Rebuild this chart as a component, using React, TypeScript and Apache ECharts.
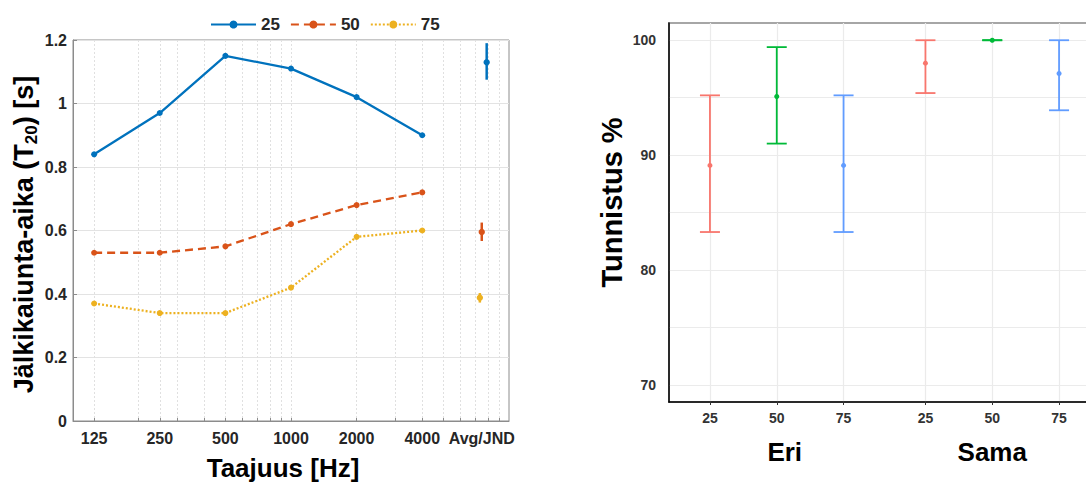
import React, { useEffect, useRef } from 'react';
import * as echarts from 'echarts';

// ---------- Left chart data ----------
const freqs = [125, 250, 500, 1000, 2000, 4000];
const seriesNames = ['25', '50', '75'];
const t20_25 = [0.84, 0.97, 1.15, 1.11, 1.02, 0.9];
const t20_50 = [0.53, 0.53, 0.55, 0.62, 0.68, 0.72];
const t20_75 = [0.37, 0.34, 0.34, 0.42, 0.58, 0.6];
const avgLabel = 'Avg/JND';
const avgLabelFreq = 7500;
const avgFreqs = [7900, 7500, 7350];
const avgMeans = [1.13, 0.595, 0.388];
const avgLow = [1.075, 0.567, 0.373];
const avgHigh = [1.19, 0.625, 0.403];
const xTickFreqs = [125, 250, 500, 1000, 2000, 4000, 7500];
const gridFreqs = [125, 200, 250, 300, 400, 500, 600, 700, 800, 900, 1000, 2000, 3000, 4000, 5000, 6000, 7000, 8000, 9000];

// ---------- Right chart data ----------
const groups = ['Eri', 'Sama'];
const levels = ['25', '50', '75'];
const accMean = [[89.1, 95.1, 89.1], [98.0, 100, 97.1]];
const accLow = [[83.3, 91.0, 83.3], [95.4, 100, 93.9]];
const accHigh = [[95.2, 99.4, 95.2], [100, 100, 100]];
const accLabelTicks = [70, 80, 90, 100];
const accGridTicks = [70, 75, 80, 85, 90, 95, 100];

const leftColors = ['#0072BD', '#D95319', '#EDB120'];
const rightColors = ['#F8766D', '#00BA38', '#619CFF'];
const FONT = '"Liberation Sans", Arial, Helvetica, sans-serif';

export default function App() {
  const ref = useRef<HTMLDivElement>(null);
  useEffect(() => {
    if (!ref.current) return;
    const chart = echarts.init(ref.current, undefined, { renderer: 'svg' });

    const lineVals = [t20_25, t20_50, t20_75];
    const lineTypes: any[] = ['solid', [8, 5], [2, 2]];
    const lineSeries = seriesNames.map((name, k) => ({
      name,
      type: 'line',
      xAxisIndex: 0,
      yAxisIndex: 0,
      data: freqs.map((f, i) => [f, lineVals[k][i]]),
      symbol: 'circle',
      symbolSize: 6,
      itemStyle: { color: leftColors[k] },
      lineStyle: { color: leftColors[k], width: 2.3, type: lineTypes[k] },
      z: 5,
    }));

    const avgData = seriesNames.map((_, k) => [avgFreqs[k], avgMeans[k], avgLow[k], avgHigh[k], k]);

    const dodge = [-0.31, 0, 0.31];
    const accPos: number[] = [];
    const accData: number[][] = [];
    groups.forEach((_, gi) => {
      levels.forEach((_, k) => {
        accPos.push(gi + dodge[k]);
        accData.push([gi + dodge[k], accMean[gi][k], accLow[gi][k], accHigh[gi][k], k]);
      });
    });

    const nearestFreqLabel = (v: number) => {
      let best = 0;
      xTickFreqs.forEach((f, i) => {
        if (Math.abs(Math.log(f) - Math.log(v)) < Math.abs(Math.log(xTickFreqs[best]) - Math.log(v))) best = i;
      });
      const f = xTickFreqs[best];
      return f === avgLabelFreq ? avgLabel : String(f);
    };
    const nearestLevel = (v: number) => {
      let best = 0;
      accPos.forEach((p, i) => {
        if (Math.abs(p - v) < Math.abs(accPos[best] - v)) best = i;
      });
      return levels[best % levels.length];
    };

    const option: any = {
      animation: false,
      textStyle: { fontFamily: FONT },
      legend: {
        data: seriesNames,
        left: 205,
        top: 11,
        itemWidth: 45,
        itemHeight: 10,
        itemGap: 10,
        textStyle: { fontSize: 17, fontWeight: 'bold', color: '#262626', fontFamily: FONT },
      },
      grid: [
        { left: 73, top: 40, width: 436, height: 381, show: true, borderColor: '#8c8c8c', borderWidth: 1, backgroundColor: 'transparent' },
        { left: 669, top: 23, width: 431, height: 379, show: true, borderColor: '#a6a6a6', borderWidth: 2, backgroundColor: 'transparent' },
      ],
      xAxis: [
        {
          type: 'log',
          logBase: 10,
          gridIndex: 0,
          min: 100,
          max: 10000,
          axisLine: { lineStyle: { color: '#8c8c8c', width: 1 } },
          axisTick: { inside: true, length: 3, customValues: gridFreqs, lineStyle: { color: '#8c8c8c' } },
          axisLabel: {
            customValues: xTickFreqs,
            formatter: (v: number) => nearestFreqLabel(v),
            fontSize: 16,
            fontWeight: 'bold',
            color: '#262626',
            margin: 9,
            fontFamily: FONT,
          },
          splitLine: { show: true, lineStyle: { color: '#e0e0e0', type: [2, 2], width: 1 } },
          minorTick: { show: false },
          name: 'Taajuus [Hz]',
          nameLocation: 'middle',
          nameGap: 34,
          nameTextStyle: { fontSize: 26, fontWeight: 'bold', color: '#000', fontFamily: FONT, padding: [0, 16, 0, 0] },
        },
        {
          type: 'value',
          gridIndex: 1,
          min: -0.5,
          max: 1.5,
          axisLine: { onZero: false, lineStyle: { color: '#000', width: 1.5 } },
          axisTick: { length: 3, customValues: accPos, lineStyle: { color: '#333' } },
          axisLabel: {
            customValues: accPos,
            formatter: (v: number) => nearestLevel(v),
            fontSize: 14,
            fontWeight: 'bold',
            color: '#333',
            margin: 9,
            fontFamily: FONT,
          },
          splitLine: { show: true, lineStyle: { color: '#ebebeb', width: 1.2 } },
        },
        {
          type: 'category',
          gridIndex: 1,
          position: 'bottom',
          data: groups,
          axisLine: { show: false },
          axisTick: { show: false },
          axisLabel: {
            fontSize: 26,
            fontWeight: 'bold',
            color: '#000',
            margin: 37,
            fontFamily: FONT,
            formatter: (v: string, i: number) => (i === 0 ? '{shift|' + v + '}' : v),
            rich: { shift: { fontSize: 26, fontWeight: 'bold', color: '#000', fontFamily: FONT, padding: [0, 0, 0, 16] } },
          },
          splitLine: { show: false },
        },
      ],
      yAxis: [
        {
          type: 'value',
          gridIndex: 0,
          min: 0,
          max: 1.2,
          interval: 0.2,
          axisLine: { show: true, lineStyle: { color: '#8c8c8c', width: 1 } },
          axisTick: { show: true, inside: true, length: 4, lineStyle: { color: '#8c8c8c' } },
          axisLabel: { fontSize: 16, fontWeight: 'bold', color: '#262626', margin: 6, fontFamily: FONT },
          splitLine: { show: true, lineStyle: { color: '#e3e3e3', width: 1 } },
          name: 'Jälkikaiunta-aika (T{sub|20}) [s]',
          nameLocation: 'middle',
          nameGap: 33,
          nameTextStyle: {
            fontSize: 27,
            fontWeight: 'bold',
            color: '#000',
            fontFamily: FONT,
            lineHeight: 32,
            padding: [0, 8, 0, 0],
            rich: {
              sub: { fontSize: 17, fontWeight: 'bold', color: '#000', lineHeight: 17, verticalAlign: 'bottom', fontFamily: FONT },
            },
          },
        },
        {
          type: 'value',
          gridIndex: 1,
          min: 68.5,
          max: 101.5,
          axisLine: { show: true, onZero: false, lineStyle: { color: '#000', width: 1.5 } },
          axisTick: { show: false, customValues: accGridTicks },
          axisLabel: {
            customValues: accLabelTicks,
            fontSize: 14,
            fontWeight: 'bold',
            color: '#333',
            margin: 13,
            fontFamily: FONT,
          },
          splitLine: { show: true, lineStyle: { color: '#ebebeb', width: 1.2 } },
          name: 'Tunnistus %',
          nameLocation: 'middle',
          nameGap: 43,
          nameTextStyle: { fontSize: 29, fontWeight: 'bold', color: '#000', fontFamily: FONT, padding: [0, 0, 0, 20] },
        },
      ],
      series: [
        ...lineSeries,
        {
          name: 'avg',
          type: 'custom',
          xAxisIndex: 0,
          yAxisIndex: 0,
          data: avgData,
          encode: { x: 0, y: [1, 2, 3] },
          z: 6,
          renderItem: (params: any, api: any) => {
            const x = api.value(0);
            const k = api.value(4);
            const pm = api.coord([x, api.value(1)]);
            const pl = api.coord([x, api.value(2)]);
            const ph = api.coord([x, api.value(3)]);
            const c = leftColors[k];
            return {
              type: 'group',
              children: [
                { type: 'line', shape: { x1: pl[0], y1: pl[1], x2: ph[0], y2: ph[1] }, style: { stroke: c, lineWidth: 2.5 } },
                { type: 'circle', shape: { cx: pm[0], cy: pm[1], r: 3.2 }, style: { fill: c } },
              ],
            };
          },
        },
        {
          name: 'acc',
          type: 'custom',
          xAxisIndex: 1,
          yAxisIndex: 1,
          data: accData,
          encode: { x: 0, y: [1, 2, 3] },
          z: 6,
          renderItem: (params: any, api: any) => {
            const x = api.value(0);
            const k = api.value(4);
            const pm = api.coord([x, api.value(1)]);
            const pl = api.coord([x, api.value(2)]);
            const ph = api.coord([x, api.value(3)]);
            const c = rightColors[k];
            const w = 10;
            return {
              type: 'group',
              children: [
                { type: 'line', shape: { x1: pl[0], y1: pl[1], x2: ph[0], y2: ph[1] }, style: { stroke: c, lineWidth: 1.8 } },
                { type: 'line', shape: { x1: pl[0] - w, y1: pl[1], x2: pl[0] + w, y2: pl[1] }, style: { stroke: c, lineWidth: 1.8 } },
                { type: 'line', shape: { x1: ph[0] - w, y1: ph[1], x2: ph[0] + w, y2: ph[1] }, style: { stroke: c, lineWidth: 1.8 } },
                { type: 'circle', shape: { cx: pm[0], cy: pm[1], r: 2.5 }, style: { fill: c } },
              ],
            };
          },
        },
      ],
    };
    chart.setOption(option);
    return () => chart.dispose();
  }, []);
  return (
    <div style={{ position: 'fixed', left: 0, top: 0, width: 1086, height: 486, overflow: 'hidden', background: '#fff' }}>
      <div ref={ref} style={{ width: 1110, height: 486 }} />
    </div>
  );
}
